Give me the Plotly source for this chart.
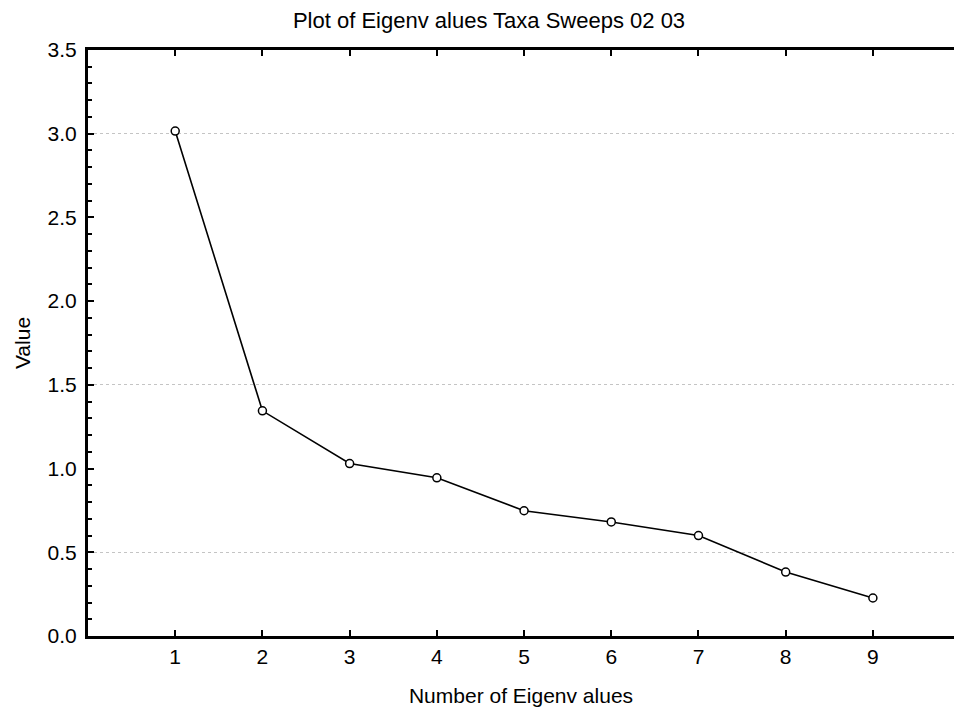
import plotly.graph_objects as go

eigen_numbers = [1, 2, 3, 4, 5, 6, 7, 8, 9]
eigen_values = [3.016, 1.345, 1.03, 0.945, 0.748, 0.681, 0.600, 0.382, 0.227]
x_tick_labels = ["1", "2", "3", "4", "5", "6", "7", "8", "9"]
y_tick_values = [0.0, 0.5, 1.0, 1.5, 2.0, 2.5, 3.0, 3.5]
y_tick_labels = ["0.0", "0.5", "1.0", "1.5", "2.0", "2.5", "3.0", "3.5"]
grid_values = [0.5, 1.5, 3.0]

title_text = "Plot of Eigenv alues Taxa Sweeps 02 03"
x_title = "Number of Eigenv alues"
y_title = "Value"

font_family = "Liberation Sans, Arial, sans-serif"

fig = go.Figure()

# invisible trace to activate the grid axis
fig.add_trace(go.Scatter(x=[0], y=[0], yaxis="y2", mode="markers",
                         marker=dict(opacity=0), showlegend=False, hoverinfo="skip"))

fig.add_trace(go.Scatter(
    x=eigen_numbers, y=eigen_values, mode="lines+markers",
    line=dict(color="black", width=1.6),
    marker=dict(symbol="circle", size=8, color="white",
                line=dict(color="black", width=1.5)),
    showlegend=False,
))

fig.update_layout(
    width=954, height=715,
    margin=dict(l=88, r=0, t=50, b=79),
    paper_bgcolor="white", plot_bgcolor="white",
    title=dict(text=title_text, x=0.5126, xanchor="center", y=0.972, yanchor="middle",
               font=dict(family=font_family, size=22, color="black")),
    xaxis=dict(
        range=[0, 9.93], tickmode="array", tickvals=eigen_numbers, ticktext=x_tick_labels,
        ticks="inside", ticklen=6, tickwidth=2, tickcolor="black",
        showline=True, linecolor="black", linewidth=2.5, mirror="ticks",
        showgrid=False, zeroline=False,
        tickfont=dict(family=font_family, size=21, color="black"),
        title=dict(text=x_title, font=dict(family=font_family, size=21, color="black"), standoff=22),
    ),
    yaxis=dict(
        range=[0, 3.5], tickmode="array", tickvals=y_tick_values, ticktext=y_tick_labels,
        ticks="inside", ticklen=6, tickwidth=2, tickcolor="black",
        minor=dict(dtick=0.1, ticks="inside", ticklen=4, tickwidth=1.5, tickcolor="black", showgrid=False),
        showline=True, linecolor="black", linewidth=3,
        showgrid=False, zeroline=False,
        tickfont=dict(family=font_family, size=21, color="black"),
        ticklabelstandoff=4,
        title=dict(text=y_title, font=dict(family=font_family, size=21, color="black"), standoff=12),
    ),
    yaxis2=dict(
        range=[0, 3.5], overlaying="y", tickmode="array", tickvals=grid_values,
        showticklabels=False, showgrid=True, gridcolor="#c4c4c4", griddash="dot",
        gridwidth=1, zeroline=False, showline=False,
    ),
)

fig.write_html("out.html")
